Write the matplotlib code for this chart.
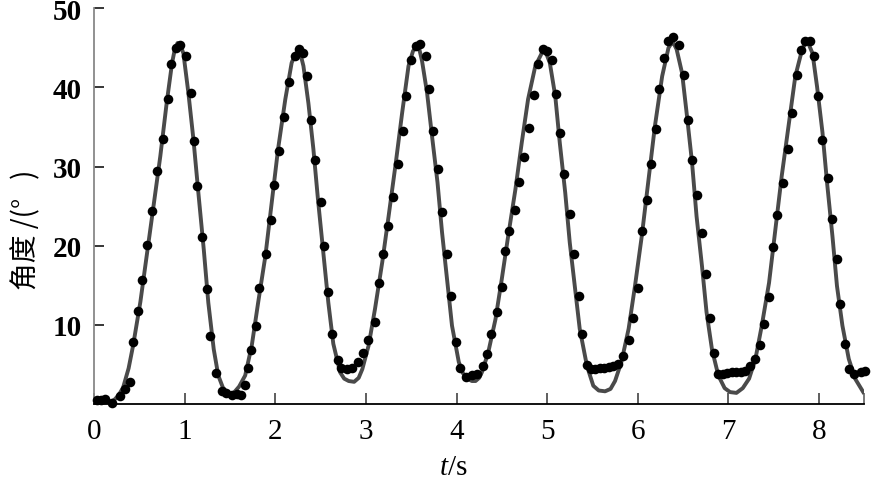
import matplotlib
matplotlib.use("Agg")
import matplotlib.pyplot as plt

plt.rcParams['font.family'] = ['Liberation Serif', 'DejaVu Serif']
plt.rcParams['mathtext.fontset'] = 'custom'
plt.rcParams['mathtext.it'] = 'Liberation Serif:italic'
plt.rcParams['mathtext.rm'] = 'Liberation Serif'

# measured angle (dots)
t_meas = [0.03, 0.075, 0.12, 0.195, 0.29, 0.34, 0.40, 0.43, 0.48, 0.53, 0.58, 0.64, 0.69,
          0.76, 0.81, 0.85, 0.905, 0.95, 1.015, 1.067, 1.107, 1.14, 1.195, 1.24, 1.28,
          1.34, 1.41, 1.46, 1.52, 1.575, 1.62, 1.667, 1.70, 1.73, 1.785, 1.825, 1.895,
          1.95, 1.99, 2.045, 2.10, 2.155, 2.22, 2.26, 2.31, 2.35, 2.395, 2.44, 2.50,
          2.54, 2.585, 2.63, 2.69, 2.73, 2.79, 2.85, 2.91, 2.97, 3.02, 3.10, 3.14,
          3.19, 3.245, 3.30, 3.355, 3.41, 3.44, 3.50, 3.555, 3.60, 3.66, 3.70, 3.74,
          3.80, 3.84, 3.90, 3.94, 3.99, 4.04, 4.10, 4.17, 4.23, 4.29, 4.34, 4.385,
          4.45, 4.50, 4.54, 4.58, 4.65, 4.69, 4.75, 4.80, 4.85, 4.90, 4.96, 5.00,
          5.05, 5.10, 5.14, 5.19, 5.25, 5.30, 5.35, 5.39, 5.44, 5.48, 5.53, 5.58,
          5.63, 5.68, 5.73, 5.78, 5.84, 5.90, 5.95, 6.00, 6.045, 6.10, 6.15, 6.20,
          6.24, 6.29, 6.34, 6.39, 6.46, 6.51, 6.55, 6.60, 6.66, 6.71, 6.75, 6.80,
          6.84, 6.89, 6.94, 6.99, 7.04, 7.09, 7.14, 7.19, 7.24, 7.29, 7.35, 7.39,
          7.45, 7.49, 7.54, 7.60, 7.66, 7.70, 7.76, 7.80, 7.85, 7.90, 7.95, 7.99,
          8.04, 8.10, 8.15, 8.20, 8.23, 8.29, 8.33, 8.385, 8.46, 8.51]
v_meas = [0.55, 0.5, 0.6, 0.1, 1.05, 1.9, 2.8, 7.8, 11.8, 15.6, 20.1, 24.4, 29.4,
          33.5, 38.5, 42.9, 45.0, 45.4, 44.0, 39.3, 33.2, 27.5, 21.1, 14.5, 8.6,
          3.9, 1.7, 1.35, 1.1, 1.3, 1.1, 2.4, 4.6, 6.8, 9.9, 14.7, 18.9,
          23.3, 27.7, 31.9, 36.3, 40.7, 43.9, 44.8, 44.3, 41.4, 35.9, 30.8, 25.5,
          19.9, 14.2, 8.8, 5.5, 4.6, 4.4, 4.5, 5.3, 6.5, 8.1, 10.3, 15.3,
          18.9, 22.5, 26.1, 30.3, 34.5, 38.9, 43.4, 45.2, 45.5, 44.0, 39.8, 34.5,
          29.7, 24.3, 18.9, 13.6, 7.8, 4.6, 3.4, 3.6, 3.8, 4.8, 6.3, 8.8,
          11.6, 14.8, 19.3, 21.9, 24.5, 28.0, 31.2, 34.9, 39.0, 42.9, 44.8, 44.6,
          43.4, 39.2, 34.2, 29.0, 24.0, 18.9, 13.6, 8.8, 4.9, 4.4, 4.4, 4.5,
          4.6, 4.7, 4.8, 5.1, 6.1, 8.1, 10.9, 14.6, 21.9, 25.8, 30.3, 34.8,
          39.8, 43.7, 45.8, 46.4, 45.3, 41.6, 35.9, 30.8, 26.4, 21.6, 16.4, 10.8,
          6.5, 3.8, 3.8, 3.9, 4.0, 4.1, 4.0, 4.2, 4.8, 5.7, 7.4, 10.1,
          13.5, 19.8, 23.9, 27.9, 32.2, 36.8, 41.6, 44.7, 45.8, 45.8, 44.0, 38.9,
          33.4, 28.5, 23.4, 18.3, 12.6, 7.6, 4.4, 3.8, 4.0, 4.2]

# fitted curve (grey line)
t_fit = [0.00, 0.07, 0.14, 0.22, 0.27, 0.32, 0.38, 0.43, 0.51, 0.58, 0.655, 0.73, 0.80,
         0.86, 0.89, 0.92, 0.95, 0.985, 1.04, 1.096, 1.15, 1.21, 1.26, 1.32, 1.37,
         1.42, 1.46, 1.50, 1.54, 1.60, 1.667, 1.74, 1.81, 1.89, 1.96, 2.03, 2.11,
         2.18, 2.22, 2.25, 2.28, 2.31, 2.365, 2.42, 2.47, 2.53, 2.585, 2.64, 2.715,
         2.76, 2.81, 2.87, 2.92, 2.96, 3.03, 3.10, 3.18, 3.25, 3.33, 3.40, 3.47,
         3.52, 3.56, 3.59, 3.62, 3.675, 3.73, 3.79, 3.84, 3.90, 3.95, 4.025, 4.07,
         4.12, 4.17, 4.21, 4.25, 4.28, 4.35, 4.43, 4.50, 4.57, 4.65, 4.72, 4.79,
         4.87, 4.94, 4.98, 5.03, 5.09, 5.14, 5.20, 5.25, 5.31, 5.36, 5.44, 5.51,
         5.57, 5.64, 5.70, 5.75, 5.82, 5.90, 5.97, 6.045, 6.12, 6.19, 6.27, 6.34,
         6.375, 6.40, 6.43, 6.49, 6.54, 6.60, 6.65, 6.71, 6.76, 6.82, 6.89, 6.96,
         7.02, 7.09, 7.16, 7.23, 7.30, 7.37, 7.45, 7.52, 7.59, 7.67, 7.74, 7.82,
         7.86, 7.89, 7.93, 7.98, 8.04, 8.09, 8.15, 8.20, 8.26, 8.33, 8.40, 8.49]
v_fit = [0.5, 0.2, 0.1, 0.5, 1.1, 2.1, 4.5, 7.4, 12.9, 18.7, 25.0, 31.3, 38.0,
         43.1, 44.8, 45.6, 45.4, 44.3, 39.3, 33.4, 26.7, 19.5, 12.8, 6.9, 3.6,
         2.1, 1.5, 1.3, 1.4, 2.2, 3.6, 7.4, 12.8, 18.7, 25.4, 32.2, 38.5,
         43.1, 44.2, 44.6, 44.1, 42.7, 38.0, 32.2, 25.9, 19.1, 12.8, 7.6, 4.0,
         3.2, 2.9, 2.8, 3.3, 4.4, 7.4, 12.0, 17.9, 23.7, 30.5, 36.8, 42.7,
         44.6, 45.1, 44.8, 43.3, 39.3, 33.8, 28.0, 21.7, 15.3, 9.9, 5.3, 3.9,
         3.2, 2.9, 2.9, 3.3, 4.0, 6.5, 10.7, 15.8, 21.2, 27.1, 33.0, 38.5,
         42.7, 44.3, 44.6, 43.1, 38.9, 33.0, 26.7, 20.4, 14.5, 9.5, 4.8, 2.3,
         1.7, 1.6, 1.9, 2.9, 5.3, 9.5, 14.9, 21.2, 28.4, 35.1, 41.4, 45.0,
         45.6, 45.5, 44.8, 41.8, 36.8, 30.5, 23.7, 17.4, 11.6, 6.9, 3.6, 2.0,
         1.5, 1.4, 2.0, 3.2, 5.7, 9.9, 15.3, 22.1, 28.8, 35.5, 41.4, 45.0,
         45.6, 45.4, 44.3, 40.1, 34.3, 28.0, 21.2, 14.9, 9.9, 5.7, 3.2, 1.5]

x_ticks = [0, 1, 2, 3, 4, 5, 6, 7, 8]
y_ticks = [10, 20, 30, 40, 50]

fig = plt.figure(figsize=(8.72, 4.85), dpi=100)
ax = fig.add_axes([0.108, 0.165, 0.883, 0.816])

ax.plot(t_fit, v_fit, color='#4a4a4a', lw=2.8, zorder=2, solid_joinstyle='round')
ax.scatter(t_meas, v_meas, s=48, color='black', zorder=3, clip_on=False, linewidths=0)

ax.set_xlim(0, 8.5)
ax.set_ylim(0, 50)
ax.set_xticks(x_ticks)
ax.set_xticks([8.5], minor=True)
ax.set_yticks(y_ticks)

for s in ['top', 'right']:
    ax.spines[s].set_visible(False)
ax.spines['left'].set_color('#888888')
ax.spines['left'].set_linewidth(1.3)
ax.spines['bottom'].set_color('black')
ax.spines['bottom'].set_linewidth(1.3)

ax.tick_params(axis='x', direction='in', length=8, width=1.1, color='#333333',
               labelsize=21, pad=10)
ax.tick_params(axis='x', which='minor', direction='in', length=8, width=1.1, color='#555555')
ax.tick_params(axis='y', direction='in', length=7, width=1.1, color='black',
               labelsize=21, pad=9)
for lab in ax.get_yticklabels():
    lab.set_fontweight('bold')

fig.text(453 / 872, 1 - 468 / 485, '$t$/s', fontsize=21, ha='center', va='center')
fig.text(26 / 872, 1 - 230 / 485, '角度 /(°   )', rotation=90, fontsize=20,
         ha='center', va='center', family=['Noto Sans CJK SC', 'DejaVu Sans'])

fig.savefig('out.png', dpi=100)
